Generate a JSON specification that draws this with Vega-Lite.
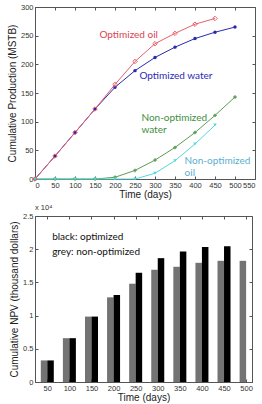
{
  "$schema": "https://vega.github.io/schema/vega-lite/v6.json",
  "autosize": "pad",
  "padding": {"left": 6, "top": 2, "right": 2, "bottom": 2},
  "bounds": "flush",
  "spacing": 37,
  "background": "white",
  "config": {
    "view": {"stroke": "#555", "strokeWidth": 1},
    "axis": {
      "grid": false,
      "labelFont": "Liberation Sans",
      "labelFontSize": 7.5,
      "labelColor": "#333",
      "titleFont": "Liberation Sans",
      "titleFontSize": 10,
      "titleFontWeight": "normal",
      "titleColor": "#222",
      "tickColor": "#555",
      "domainColor": "#555",
      "tickSize": -3,
      "labelPadding": 5
    },
    "title": {"font": "Liberation Sans", "fontWeight": "normal"}
  },
  "datasets": {
    "prod": [
      {"series": "Optimized water", "time": 0, "value": 0},
      {"series": "Optimized water", "time": 50, "value": 40},
      {"series": "Optimized water", "time": 100, "value": 81},
      {"series": "Optimized water", "time": 150, "value": 122},
      {"series": "Optimized water", "time": 200, "value": 160},
      {"series": "Optimized water", "time": 250, "value": 189},
      {"series": "Optimized water", "time": 300, "value": 212},
      {"series": "Optimized water", "time": 350, "value": 230},
      {"series": "Optimized water", "time": 400, "value": 245},
      {"series": "Optimized water", "time": 450, "value": 256},
      {"series": "Optimized water", "time": 500, "value": 265},
      {"series": "Optimized oil", "time": 0, "value": 0},
      {"series": "Optimized oil", "time": 50, "value": 40},
      {"series": "Optimized oil", "time": 100, "value": 81},
      {"series": "Optimized oil", "time": 150, "value": 122},
      {"series": "Optimized oil", "time": 200, "value": 165},
      {"series": "Optimized oil", "time": 250, "value": 205},
      {"series": "Optimized oil", "time": 300, "value": 236},
      {"series": "Optimized oil", "time": 350, "value": 254},
      {"series": "Optimized oil", "time": 400, "value": 270},
      {"series": "Optimized oil", "time": 450, "value": 280},
      {"series": "Non-optimized water", "time": 0, "value": 0},
      {"series": "Non-optimized water", "time": 50, "value": 0},
      {"series": "Non-optimized water", "time": 100, "value": 0},
      {"series": "Non-optimized water", "time": 150, "value": 0},
      {"series": "Non-optimized water", "time": 200, "value": 3},
      {"series": "Non-optimized water", "time": 250, "value": 15},
      {"series": "Non-optimized water", "time": 300, "value": 33},
      {"series": "Non-optimized water", "time": 350, "value": 55},
      {"series": "Non-optimized water", "time": 400, "value": 81},
      {"series": "Non-optimized water", "time": 450, "value": 111},
      {"series": "Non-optimized water", "time": 500, "value": 143},
      {"series": "Non-optimized oil", "time": 0, "value": 0},
      {"series": "Non-optimized oil", "time": 50, "value": 0},
      {"series": "Non-optimized oil", "time": 100, "value": 0},
      {"series": "Non-optimized oil", "time": 150, "value": 0},
      {"series": "Non-optimized oil", "time": 200, "value": 0},
      {"series": "Non-optimized oil", "time": 250, "value": 0},
      {"series": "Non-optimized oil", "time": 300, "value": 10},
      {"series": "Non-optimized oil", "time": 350, "value": 32},
      {"series": "Non-optimized oil", "time": 400, "value": 61},
      {"series": "Non-optimized oil", "time": 450, "value": 94}
    ],
    "labels": [
      {"series": "Optimized oil", "text": "Optimized oil", "time": 161, "value": 251},
      {"series": "Optimized water", "text": "Optimized water", "time": 261, "value": 180},
      {"series": "Non-optimized water", "text": "Non-optimized", "time": 266, "value": 106},
      {"series": "Non-optimized water", "text": "water", "time": 266, "value": 85},
      {"series": "Non-optimized oil", "text": "Non-optimized", "time": 374, "value": 31},
      {"series": "Non-optimized oil", "text": "oil", "time": 374, "value": 10}
    ],
    "npv": [
      {"time": 50, "type": "non-optimized", "npv": 3250},
      {"time": 100, "type": "non-optimized", "npv": 6600},
      {"time": 150, "type": "non-optimized", "npv": 9850},
      {"time": 200, "type": "non-optimized", "npv": 12750},
      {"time": 250, "type": "non-optimized", "npv": 14800},
      {"time": 300, "type": "non-optimized", "npv": 16900},
      {"time": 350, "type": "non-optimized", "npv": 17350},
      {"time": 400, "type": "non-optimized", "npv": 17950},
      {"time": 450, "type": "non-optimized", "npv": 18250},
      {"time": 500, "type": "non-optimized", "npv": 18250},
      {"time": 50, "type": "optimized", "npv": 3250},
      {"time": 100, "type": "optimized", "npv": 6600},
      {"time": 150, "type": "optimized", "npv": 9850},
      {"time": 200, "type": "optimized", "npv": 13100},
      {"time": 250, "type": "optimized", "npv": 16450},
      {"time": 300, "type": "optimized", "npv": 18650},
      {"time": 350, "type": "optimized", "npv": 19650},
      {"time": 400, "type": "optimized", "npv": 20350},
      {"time": 450, "type": "optimized", "npv": 20450}
    ],
    "legendText": [
      {"text": "black: optimized", "time": 61, "npv": 21850},
      {"text": "grey: non-optimized", "time": 61, "npv": 19620}
    ]
  },
  "vconcat": [
    {
      "width": 220,
      "height": 172,
      "resolve": {"scale": {"color": "independent"}},
      "layer": [
        {
          "data": {"name": "prod"},
          "mark": {"type": "line", "strokeWidth": 1},
          "encoding": {
            "x": {"field": "time", "type": "quantitative", "scale": {"domain": [0, 550], "nice": false},
              "axis": {"orient": "bottom", "values": [0,50,100,150,200,250,300,350,400,450,500,550], "title": "Time (days)", "titlePadding": 1}},
            "y": {"field": "value", "type": "quantitative", "scale": {"domain": [0, 300], "nice": false},
              "axis": {"orient": "left", "values": [0,50,100,150,200,250,300], "title": "Cumulative Production (MSTB)", "titlePadding": 3}},
            "color": {"field": "series", "type": "nominal", "legend": null,
              "scale": {"domain": ["Optimized water", "Optimized oil", "Non-optimized water", "Non-optimized oil"],
                        "range": ["#2a2ab0", "#e8606c", "#5a9e52", "#55d8d8"]}}
          }
        },
        {
          "data": {"name": "prod"},
          "transform": [{"filter": "datum.series !== 'Optimized oil'"}],
          "mark": {"type": "point", "filled": true, "size": 12, "opacity": 1},
          "encoding": {
            "x": {"field": "time", "type": "quantitative",
              "axis": {"orient": "top", "values": [0,50,100,150,200,250,300,350,400,450,500,550], "labels": false, "title": null, "domain": false}},
            "y": {"field": "value", "type": "quantitative",
              "axis": {"orient": "right", "values": [0,50,100,150,200,250,300], "labels": false, "title": null, "domain": false}},
            "color": {"field": "series", "type": "nominal", "legend": null,
              "scale": {"domain": ["Optimized water", "Optimized oil", "Non-optimized water", "Non-optimized oil"],
                        "range": ["#2a2ab0", "#e8606c", "#5a9e52", "#55d8d8"]}},
            "shape": {"field": "series", "type": "nominal", "legend": null,
              "scale": {"domain": ["Optimized water", "Optimized oil", "Non-optimized water", "Non-optimized oil"],
                        "range": ["circle", "diamond", "cross", "triangle-down"]}}
          }
        },
        {
          "data": {"name": "prod"},
          "transform": [{"filter": "datum.series === 'Optimized oil'"}],
          "mark": {"type": "point", "shape": "diamond", "filled": false, "size": 20, "strokeWidth": 1, "color": "#e8606c", "opacity": 1},
          "encoding": {
            "x": {"field": "time", "type": "quantitative", "axis": null},
            "y": {"field": "value", "type": "quantitative", "axis": null}
          }
        },
        {
          "data": {"name": "labels"},
          "mark": {"type": "text", "font": "Lato", "fontSize": 10, "align": "left", "baseline": "middle"},
          "encoding": {
            "x": {"field": "time", "type": "quantitative", "axis": null},
            "y": {"field": "value", "type": "quantitative", "axis": null},
            "text": {"field": "text"},
            "color": {"field": "series", "type": "nominal", "legend": null,
              "scale": {"domain": ["Optimized water", "Optimized oil", "Non-optimized water", "Non-optimized oil"],
                        "range": ["#2a2ab8", "#d84450", "#3e8e3e", "#5aaed0"]}}
          }
        }
      ]
    },
    {
      "width": 217,
      "height": 166,
      "title": {"text": "x 10⁴", "anchor": "start", "fontSize": 7.5, "color": "#333", "offset": 1, "frame": "group"},
      "layer": [
        {
          "data": {"name": "npv"},
          "transform": [{"filter": "datum.type === 'non-optimized'"}],
          "mark": {"type": "bar", "width": 6.5, "xOffset": -3.25, "color": "#737373", "clip": true},
          "encoding": {
            "x": {"field": "time", "type": "quantitative", "scale": {"domain": [33.5, 502], "nice": false, "zero": false},
              "axis": {"orient": "bottom", "values": [50,100,150,200,250,300,350,400,450,500], "title": "Time (days)", "titlePadding": 1}},
            "y": {"field": "npv", "type": "quantitative", "scale": {"domain": [0, 25000], "nice": false},
              "axis": {"orient": "left", "values": [0,5000,10000,15000,20000,25000], "labelExpr": "datum.value / 10000", "title": "Cumulative NPV (thousand dollars)", "titlePadding": 3}}
          }
        },
        {
          "data": {"name": "npv"},
          "transform": [{"filter": "datum.type === 'optimized'"}],
          "mark": {"type": "bar", "width": 6.5, "xOffset": 3.25, "color": "#000000", "clip": true},
          "encoding": {
            "x": {"field": "time", "type": "quantitative",
              "axis": {"orient": "top", "values": [50,100,150,200,250,300,350,400,450,500], "labels": false, "title": null, "domain": false}},
            "y": {"field": "npv", "type": "quantitative",
              "axis": {"orient": "right", "values": [0,5000,10000,15000,20000,25000], "labels": false, "title": null, "domain": false}}
          }
        },
        {
          "data": {"name": "legendText"},
          "mark": {"type": "text", "font": "Lato", "fontSize": 10, "align": "left", "baseline": "middle", "color": "#111"},
          "encoding": {
            "x": {"field": "time", "type": "quantitative", "axis": null},
            "y": {"field": "npv", "type": "quantitative", "axis": null},
            "text": {"field": "text"}
          }
        }
      ]
    }
  ]
}
